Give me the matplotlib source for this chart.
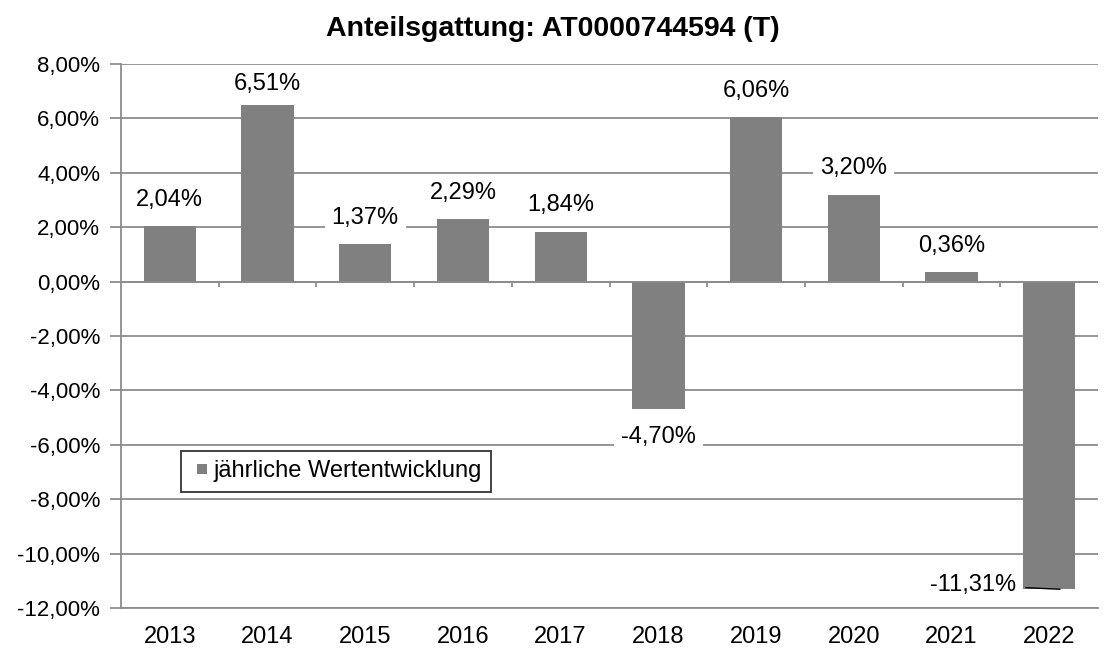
import matplotlib.pyplot as plt
from matplotlib.lines import Line2D

plt.rcParams['font.family'] = ['Liberation Sans', 'DejaVu Sans']

# data
years = ['2013', '2014', '2015', '2016', '2017', '2018', '2019', '2020', '2021', '2022']
returns = [2.04, 6.51, 1.37, 2.29, 1.84, -4.70, 6.06, 3.20, 0.36, -11.31]
yticks = [8, 6, 4, 2, 0, -2, -4, -6, -8, -10, -12]
title = 'Anteilsgattung: AT0000744594 (T)'
series_name = 'jährliche Wertentwicklung'


def pct(v):
    return f'{v:.2f}'.replace('.', ',') + '%'


def draw_chart():
    fig = plt.figure(figsize=(11.05, 6.48), dpi=100, facecolor='white')
    ax = fig.add_axes([0.1095, 0.0617, 0.8842, 0.8395])

    bar_color = '#808080'
    grid_color = '#8c8c8c'
    fs = 17

    x = list(range(len(years)))
    ax.bar(x, returns, width=0.535, color=bar_color, zorder=2)

    ax.set_xlim(-0.5, len(years) - 0.5)
    ax.set_ylim(-12, 8)
    ax.set_yticks(yticks)
    ax.set_yticklabels([pct(v) for v in yticks], fontsize=16)
    ax.set_xticks(x)
    ax.set_xticklabels(years, fontsize=fs)

    ax.yaxis.grid(True, color=grid_color, lw=1.3, zorder=0)
    ax.tick_params(axis='y', length=8, width=1.3, color=grid_color, pad=7)
    ax.tick_params(axis='x', length=0, pad=13)
    for s in ['top', 'right']:
        ax.spines[s].set_visible(False)
    for s in ['left', 'bottom']:
        ax.spines[s].set_color(grid_color)
        ax.spines[s].set_linewidth(1.3)

    # zero line with small category separators
    ax.axhline(0, color=grid_color, lw=1.3, zorder=3)
    ax.vlines([i + 0.5 for i in x[:-1]], -0.2, 0, color=grid_color, lw=1.3, zorder=3)

    box = dict(boxstyle='square,pad=0.3', fc='white', ec='none')
    for i, v in enumerate(returns):
        if v >= 0:
            ax.text(i, min(v + 0.96, 7.28), pct(v), ha='center', va='center',
                    fontsize=fs, bbox=box, zorder=4)
        elif v > -10:
            ax.text(i, v - 1.0, pct(v), ha='center', va='center',
                    fontsize=fs, bbox=box, zorder=4)
        else:
            ax.annotate(pct(v), xy=(i + 0.11, v), xytext=(i - 0.78, v + 0.15),
                        ha='center', va='center', fontsize=fs, zorder=4,
                        arrowprops=dict(arrowstyle='-', color='black', lw=1,
                                        shrinkA=5, shrinkB=0))

    handle = Line2D([], [], ls='none', marker='s', markersize=6.5,
                    color=bar_color, markeredgewidth=0)
    leg = ax.legend([handle], [series_name], loc='upper left',
                    bbox_to_anchor=(0.061, 0.289),
                    fontsize=fs, frameon=True, fancybox=False,
                    handlelength=1.0, handletextpad=0.0,
                    borderpad=0.4, borderaxespad=0)
    leg.get_frame().set_edgecolor('black')
    leg.get_frame().set_linewidth(1.3)

    fig.suptitle(title, fontsize=20.5, fontweight='bold', x=0.5, y=0.955, va='center')

    fig.savefig('out.png', dpi=100, facecolor='white')
    plt.close(fig)


if __name__ == '__main__':
    draw_chart()
